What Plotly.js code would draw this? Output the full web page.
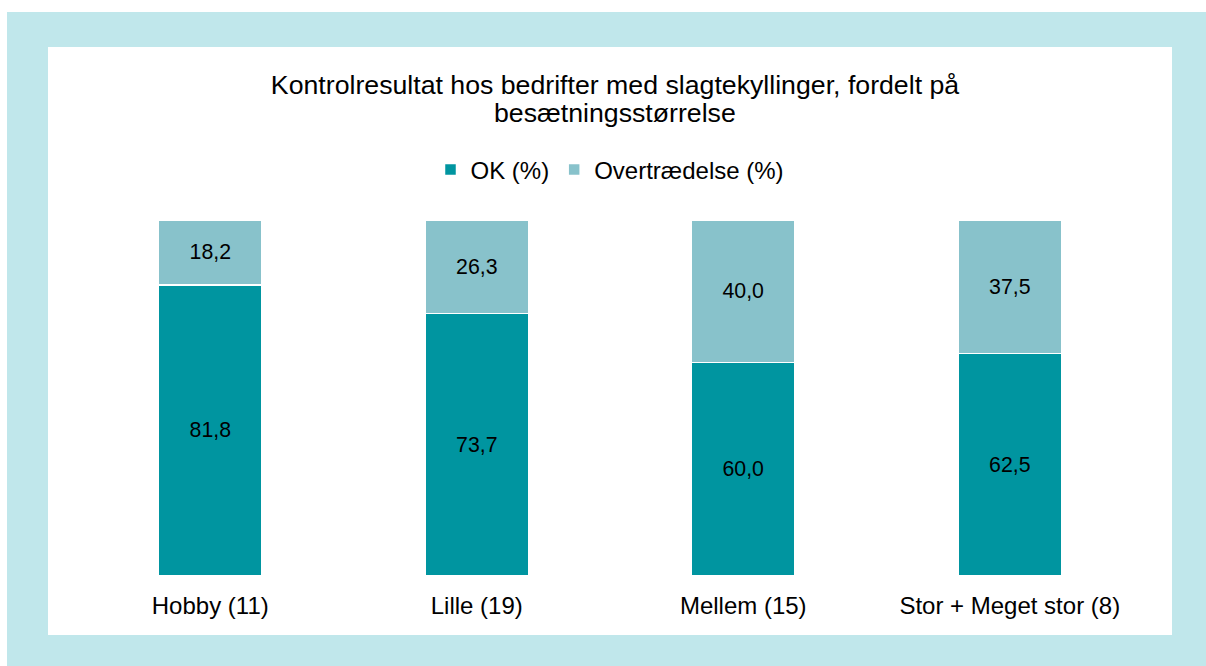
<!DOCTYPE html>
<html><head><meta charset="utf-8">
<script src="https://cdn.plot.ly/plotly-3.0.1.min.js"></script>
<style>
html,body{margin:0;padding:0;background:#fff;width:1206px;height:666px;overflow:hidden;}
#outer{position:absolute;left:7px;top:12px;width:1199px;height:654px;background:#C0E7EB;}
#chart{position:absolute;left:48px;top:47px;width:1124px;height:588px;background:#fff;}
</style></head>
<body>
<div id="outer"></div>
<div id="chart"></div>
<script>
const categories = ["Hobby (11)", "Lille (19)", "Mellem (15)", "Stor + Meget stor (8)"];
const okValues = [81.8, 73.7, 60.0, 62.5];
const violationValues = [18.2, 26.3, 40.0, 37.5];
const seriesNames = ["OK (%)", "Overtrædelse (%)"];
const titleLines = ["Kontrolresultat hos bedrifter med slagtekyllinger, fordelt på", "besætningsstørrelse"];

const fmt = v => v.toFixed(1).replace('.', ',');
const fam = "Liberation Sans, Arial, sans-serif";

const traces = [
  {type: "bar", name: seriesNames[0], x: categories, y: okValues,
   marker: {color: "#0095A0", line: {color: "#fff", width: 1.5}},
   text: okValues.map(fmt), textposition: "inside", insidetextanchor: "middle",
   textfont: {family: fam, size: 21.3, color: "#000"}, hoverinfo: "none"},
  {type: "bar", name: seriesNames[1], x: categories, y: violationValues,
   marker: {color: "#88C2CB", line: {color: "#fff", width: 1.5}},
   text: violationValues.map(fmt), textposition: "inside", insidetextanchor: "middle",
   textfont: {family: fam, size: 21.3, color: "#000"}, hoverinfo: "none"}
];

const titleX = 0.5 + 5 / 1066;

const layout = {
  width: 1124, height: 588,
  barmode: "stack", bargap: 0.61,
  paper_bgcolor: "#fff", plot_bgcolor: "#fff",
  margin: {l: 29, r: 29, t: 173, b: 59},
  title: {text: titleLines[0], x: titleX, xanchor: "center", xref: "paper",
          y: 1 - 38/588, yref: "container", yanchor: "middle",
          font: {family: fam, size: 26.7, color: "#000"}},
  annotations: [
    {text: titleLines[1], xref: "paper", yref: "paper", x: titleX, y: (529 - 66) / 356,
     xanchor: "center", yanchor: "middle", showarrow: false,
     font: {family: fam, size: 26.7, color: "#000"}}
  ],
  showlegend: true,
  legend: {orientation: "h", x: 0.5, xanchor: "center", y: (529 - 123) / 356, yanchor: "middle",
           font: {family: fam, size: 24, color: "#000"}, traceorder: "normal"},
  xaxis: {showline: false, showgrid: false, zeroline: false, ticks: "",
          tickfont: {family: fam, size: 24, color: "#000"}, ticklabelstandoff: 13},
  yaxis: {range: [0, 100], visible: false, showgrid: false, zeroline: false}
};

Plotly.newPlot("chart", traces, layout, {displayModeBar: false, staticPlot: true});
</script>
</body></html>
